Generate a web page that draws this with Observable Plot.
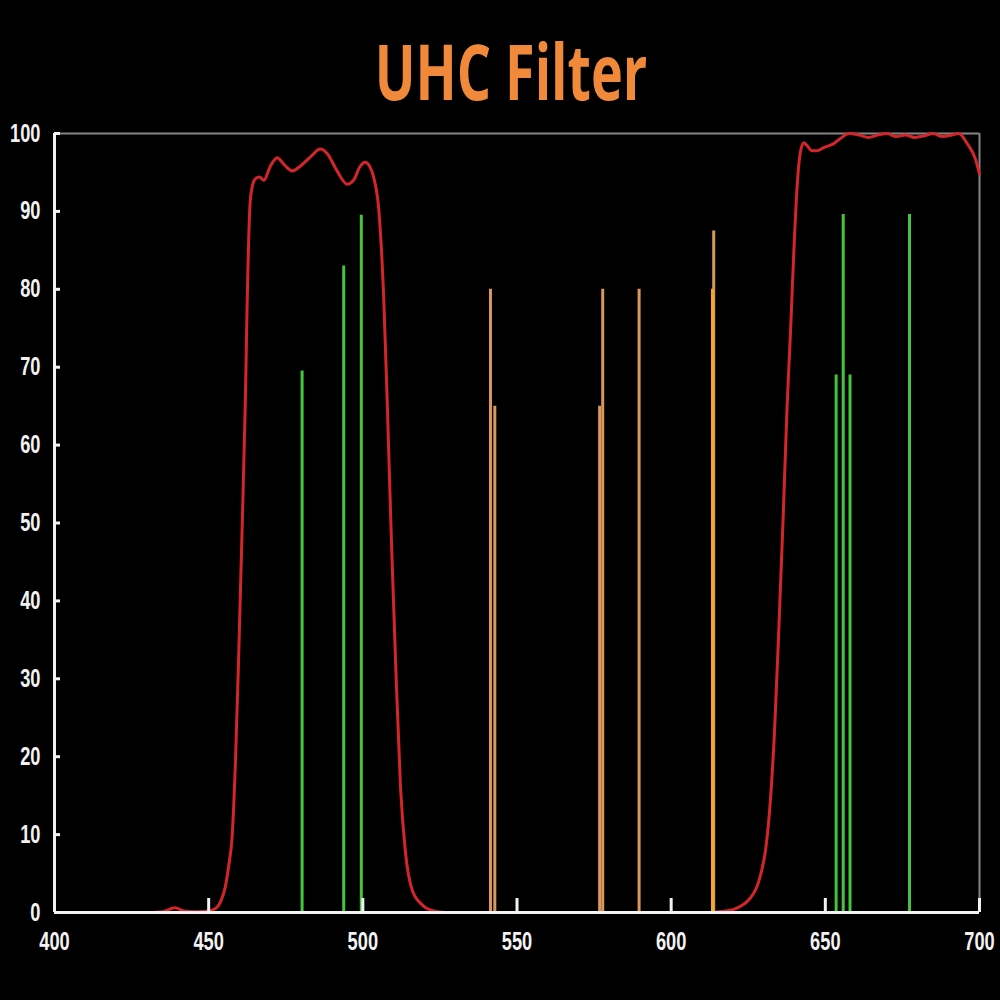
<!DOCTYPE html>
<html><head><meta charset="utf-8">
<script src="https://cdn.jsdelivr.net/npm/d3@7"></script>
<script src="https://cdn.jsdelivr.net/npm/@observablehq/plot@0.6"></script>
<style>
html,body{margin:0;padding:0;background:#000;}
#wrap{width:1000px;height:1000px;background:#000;overflow:hidden;}
#title{position:relative;height:120px;}
#title span{position:absolute;left:511px;top:32px;font-family:"Open Sans",sans-serif;font-weight:700;font-size:77px;line-height:77px;color:#f08a3a;white-space:nowrap;transform:translateX(-50%) scaleX(0.7);}
#chart svg{display:block;}
</style></head><body>
<div id="wrap"><div id="title"><span id="tt"></span></div><div id="chart"></div></div>
<script>
const titleText = "UHC Filter";
const xTicks = [400, 450, 500, 550, 600, 650, 700];
const yTicks = [0, 10, 20, 30, 40, 50, 60, 70, 80, 90, 100];

// Transmission curve, blue-green passband
const leftW = [430, 435, 439, 442, 446, 450, 452.5, 454, 455.4, 456.5, 457.6, 458.7, 459.7, 460.8, 461.9, 462.5, 463.5, 464.4, 465.2, 466.5, 467.9, 470, 472.2, 474.5, 477.1, 480, 483, 486.2, 488.5, 491.5, 494.9, 497, 499, 500.8, 502.2, 503.5, 505.2, 506.8, 507.9, 509.2, 510.6, 512.2, 513.8, 516, 519.2, 523, 527];
const leftT = [0, 0.1, 0.6, 0.2, 0.1, 0.2, 0.6, 1.5, 3.3, 6, 9.7, 19.5, 32.4, 48.6, 65.7, 78.6, 91.4, 93.6, 94.2, 94.4, 94.0, 95.8, 96.9, 96.0, 95.2, 95.9, 97.0, 98.0, 97.4, 95.3, 93.5, 94.0, 95.7, 96.3, 95.8, 94.4, 90.1, 78.6, 65.7, 48.6, 32.4, 16.2, 7.8, 2.9, 1.0, 0.2, 0];
// Transmission curve, red passband
const rightW = [613.5, 617, 620.3, 622.5, 624.6, 626.5, 627.9, 629.3, 630.6, 632.2, 633.5, 634.9, 636.3, 637.6, 638.7, 639.8, 640.9, 641.9, 643.0, 644.2, 645.5, 647.4, 649.5, 652.7, 655, 657.6, 661, 664, 667, 670, 673, 676, 679, 682, 685, 688, 691, 693.3, 696.0, 698.7, 700];
const rightT = [0, 0.15, 0.4, 0.8, 1.4, 2.3, 3.4, 5.3, 8.0, 14.5, 23.1, 36.2, 50.5, 65.0, 74.5, 85.0, 93.5, 97.6, 98.8, 98.4, 97.8, 97.8, 98.2, 98.7, 99.4, 100, 99.8, 99.5, 99.8, 100, 99.6, 99.8, 99.5, 99.7, 100, 99.6, 99.8, 100, 98.7, 96.7, 94.8];

// Emission lines (nm, relative height)
const greenW = [480.3, 493.8, 499.5, 653.5, 655.8, 658.0, 677.3];
const greenV = [69.5, 83, 89.5, 69, 89.6, 69, 89.6];
const orangeW = [541.4, 542.8, 576.8, 577.8, 589.6, 613.8];
const orangeV = [80, 65, 65, 80, 80, 87.5];
const brightW = [613.4];
const brightV = [80];

document.getElementById("tt").textContent = titleText;

const curve = [
  ...leftW.map((w, i) => ({w, t: leftT[i], seg: "a"})),
  ...rightW.map((w, i) => ({w, t: rightT[i], seg: "b"}))
];
const green = greenW.map((w, i) => ({w, v: greenV[i]}));
const orange = orangeW.map((w, i) => ({w, v: orangeV[i]}));
const bright = brightW.map((w, i) => ({w, v: brightV[i]}));

const W = 1000, H = 880, mL = 54, mR = 21, mT = 13, mB = 88;
const plotW = W - mL - mR, plotH = H - mT - mB;
const font = "'Liberation Sans', Arial, sans-serif";

const chart = Plot.plot({
  width: W, height: H,
  marginLeft: mL, marginRight: mR, marginTop: mT, marginBottom: mB,
  style: {background: "#000", color: "#fff", fontFamily: font},
  x: {domain: [400, 700], label: null},
  y: {domain: [0, 100], label: null},
  marks: [
    Plot.ruleY([100], {stroke: "#858585", strokeWidth: 2}),
    Plot.ruleX([700], {stroke: "#858585", strokeWidth: 2}),
    Plot.line(curve, {x: "w", y: "t", z: "seg", stroke: "#d4262a", strokeWidth: 3, curve: "monotone-x"}),
    Plot.ruleX(orange, {x: "w", y1: 0, y2: "v", stroke: "#d9975c", strokeWidth: 3}),
    Plot.ruleX(bright, {x: "w", y1: 0, y2: "v", stroke: "#f4a534", strokeWidth: 3}),
    Plot.ruleX(green, {x: "w", y1: 0, y2: "v", stroke: "#45c43f", strokeWidth: 3}),
    Plot.ruleY([0], {stroke: "#f2f2f2", strokeWidth: 3}),
    Plot.ruleX([400], {stroke: "#f2f2f2", strokeWidth: 3}),
    Plot.tickX(xTicks.filter(d => d > 400), {x: d => d, stroke: "#f2f2f2", strokeWidth: 3, insetTop: plotH - 14}),
    Plot.tickY(yTicks.filter(d => d > 0), {y: d => d, stroke: "#f2f2f2", strokeWidth: 3, insetRight: plotW - 6}),
    Plot.axisX({ticks: xTicks, tickSize: 0, tickPadding: 20, tickFormat: d => String(d), fontSize: 25, fontWeight: "bold", fill: "#f2f2f2"}),
    Plot.axisY({ticks: yTicks, tickSize: 0, tickPadding: 14, tickFormat: d => String(d), fontSize: 25, fontWeight: "bold", fill: "#f2f2f2"})
  ]
});
document.getElementById("chart").appendChild(chart);
chart.querySelectorAll('g[aria-label="x-axis tick label"] text, g[aria-label="y-axis tick label"] text').forEach(t => {
  const tr = t.getAttribute("transform");
  if (tr) {
    t.setAttribute("transform", tr + " scale(0.73,1)");
  } else {
    const x = +t.getAttribute("x") || 0, y = +t.getAttribute("y") || 0;
    t.removeAttribute("x"); t.removeAttribute("y");
    t.setAttribute("transform", `translate(${x},${y}) scale(0.73,1)`);
  }
});
</script>
</body></html>
